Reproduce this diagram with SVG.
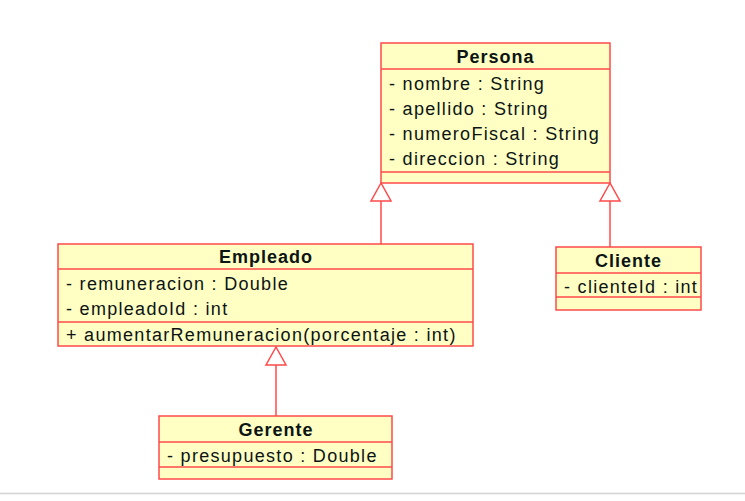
<svg xmlns="http://www.w3.org/2000/svg" width="745" height="501" viewBox="0 0 745 501">
  <style>
    .box { fill: #ffffc4; stroke: #ff4a4a; stroke-width: 1.5; }
    .sep { stroke: #ff4a4a; stroke-width: 1.5; }
    .title { font-family: "Liberation Sans", Arial, sans-serif; font-size: 18px; font-weight: bold; letter-spacing: 1px; fill: #0c1414; text-anchor: middle; }
    .attr { font-family: "Liberation Sans", Arial, sans-serif; font-size: 18px; letter-spacing: 1.3px; fill: #0c1414; }
    .gen { stroke: #ff4a4a; stroke-width: 1.5; fill: none; marker-end: url(#hollow); }
  </style>
  <defs>
    <!-- hollow triangle head for generalization -->
    <marker id="hollow" viewBox="-20 -12 22 24" refX="0" refY="0" markerWidth="22" markerHeight="24" markerUnits="userSpaceOnUse" orient="auto">
      <path d="M0,0 L-18,-10 L-18,10 Z" fill="#ffffff" stroke="#ff4a4a" stroke-width="1.5"/>
    </marker>
  </defs>
  <rect width="745" height="501" fill="#ffffff"/>
  <line x1="0" y1="493.5" x2="745" y2="493.5" stroke="#d4d4d4" stroke-width="1.5"/>

  <g id="connectors">
    <line class="gen" x1="381" y1="244" x2="381" y2="183"/>
    <line class="gen" x1="610" y1="247" x2="610" y2="183"/>
    <line class="gen" x1="276" y1="416" x2="276" y2="347"/>
  </g>

  <g id="persona">
    <rect class="box" x="381" y="43" width="229" height="140"/>
    <line class="sep" x1="381" y1="69" x2="610" y2="69"/>
    <line class="sep" x1="381" y1="172" x2="610" y2="172"/>
    <text class="title" x="495.5" y="63">Persona</text>
    <text class="attr" x="389" y="90">- nombre : String</text>
    <text class="attr" x="389" y="115">- apellido : String</text>
    <text class="attr" x="389" y="140">- numeroFiscal : String</text>
    <text class="attr" x="389" y="165">- direccion : String</text>
  </g>

  <g id="empleado">
    <rect class="box" x="58" y="244" width="415" height="102"/>
    <line class="sep" x1="58" y1="269" x2="473" y2="269"/>
    <line class="sep" x1="58" y1="322" x2="473" y2="322"/>
    <text class="title" x="266" y="263">Empleado</text>
    <text class="attr" x="66" y="290">- remuneracion : Double</text>
    <text class="attr" x="66" y="315">- empleadoId : int</text>
    <text class="attr" x="66" y="341">+ aumentarRemuneracion(porcentaje : int)</text>
  </g>

  <g id="cliente">
    <rect class="box" x="556" y="247" width="145" height="63"/>
    <line class="sep" x1="556" y1="273" x2="701" y2="273"/>
    <line class="sep" x1="556" y1="297" x2="701" y2="297"/>
    <text class="title" x="628.5" y="267">Cliente</text>
    <text class="attr" x="564" y="293">- clienteId : int</text>
  </g>

  <g id="gerente">
    <rect class="box" x="159" y="416" width="233" height="63"/>
    <line class="sep" x1="159" y1="442" x2="392" y2="442"/>
    <line class="sep" x1="159" y1="467" x2="392" y2="467"/>
    <text class="title" x="276" y="436">Gerente</text>
    <text class="attr" x="167" y="462">- presupuesto : Double</text>
  </g>
</svg>
